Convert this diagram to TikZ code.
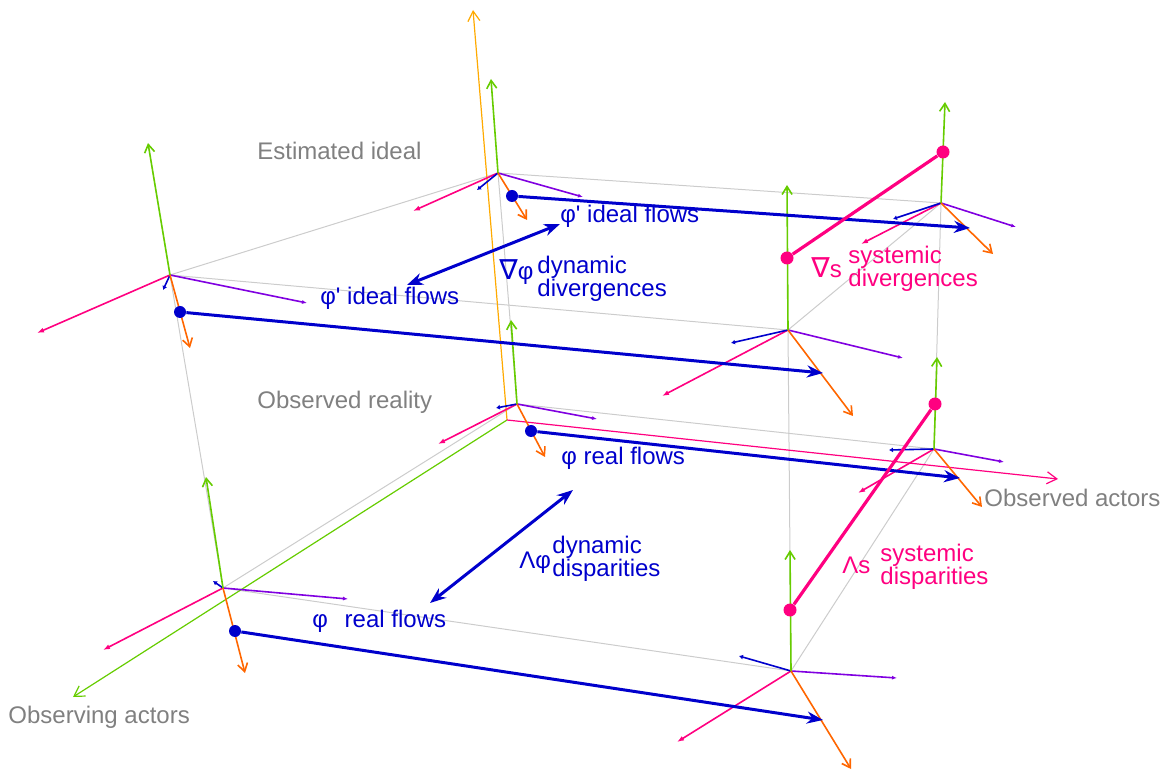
\documentclass[tikz,border=0pt]{standalone}
\usepackage{fontspec}
\setmainfont{Liberation Sans}
\newfontfamily\nablafont[Scale=1.15]{DejaVu Sans}
\usetikzlibrary{arrows.meta}

\definecolor{flowblue}{RGB}{0,0,204}
\definecolor{syspink}{RGB}{255,0,128}
\definecolor{axgreen}{RGB}{102,204,0}
\definecolor{axorange}{RGB}{255,102,0}
\definecolor{axamber}{RGB}{255,170,0}
\definecolor{axpurple}{RGB}{128,0,224}
\definecolor{edgegray}{RGB}{204,204,204}
\definecolor{labelgray}{RGB}{128,128,128}

\tikzset{>=latex}
\tikzset{
  cubeedge/.style={edgegray,line width=0.5pt},
  greenaxis/.style={axgreen,line width=0.8pt,-{Straight Barb[length=4pt,width=5pt]}},
  orangeaxis/.style={axorange,line width=0.8pt,-{Straight Barb[length=4pt,width=5pt]}},
  pinkaxis/.style={syspink,line width=0.8pt,-{Latex[length=3.5pt,width=2.5pt]}},
  purpleaxis/.style={axpurple,line width=0.8pt,-{Latex[length=2.5pt,width=2pt]}},
  blueaxis/.style={flowblue,line width=0.8pt,-{Latex[length=2pt,width=2.5pt]}},
  worldaxis/.style={line width=0.6pt,-{Straight Barb[length=5pt,width=6pt]}},
  flow/.style={flowblue,line width=1.5pt,-{Stealth[length=8pt,width=6pt]}},
  dflow/.style={flowblue,line width=1.5pt,{Stealth[length=8pt,width=6pt]}-{Stealth[length=8pt,width=6pt]}},
  systemic/.style={syspink,line width=1.6pt},
  bluedot/.style={circle,fill=flowblue,inner sep=0pt,minimum size=6pt},
  pinkdot/.style={circle,fill=syspink,inner sep=0pt,minimum size=6.5pt},
  lbl/.style={inner sep=0pt,anchor=base west,font=\fontsize{12}{11.5}\selectfont},
  lbltwo/.style={inner sep=0pt,anchor=west,align=left,font=\fontsize{12}{11.5}\selectfont},
}

% local axes of one actor: name, up, down, pink, purple, blue
\newcommand{\actoraxes}[6]{%
  \coordinate (#1-up) at #2;
  \coordinate (#1-dn) at #3;
  \coordinate (#1-pk) at #4;
  \coordinate (#1-pu) at #5;
  \coordinate (#1-bl) at #6;
  \draw[pinkaxis] (#1) -- (#1-pk);
  \draw[purpleaxis] (#1) -- (#1-pu);
  \draw[blueaxis] (#1) -- (#1-bl);
  \draw[greenaxis] (#1) -- (#1-up);
  \draw[orangeaxis] (#1) -- (#1-dn);
}
\newcommand{\phiprime}{φ\textquotesingle}

\begin{document}
\begin{tikzpicture}[x=0.5pt,y=-0.5pt]
  \useasboundingbox (0,0) rectangle (1171,774);

  % corners of the two layers
  \coordinate (ideal-l) at (170,275);
  \coordinate (ideal-b) at (498,173);
  \coordinate (ideal-r) at (941,203);
  \coordinate (ideal-f) at (788,330);
  \coordinate (real-l) at (223,588);
  \coordinate (real-b) at (517,404);
  \coordinate (real-r) at (934,449);
  \coordinate (real-f) at (791,671);

  \draw[cubeedge] (ideal-l) -- (ideal-b) -- (ideal-r) -- (ideal-f) -- cycle;
  \draw[cubeedge] (real-l) -- (real-b) -- (real-r) -- (real-f) -- cycle;
  \foreach \c in {l,b,r,f}
    \draw[cubeedge] (ideal-\c) -- (real-\c);

  % world axes
  \coordinate (origin) at (507,420);
  \coordinate (world-up) at (473,10);
  \coordinate (world-obs) at (73,697);
  \coordinate (world-act) at (1058,479);
  \draw[worldaxis,axamber] (origin) -- (world-up);
  \draw[worldaxis,axgreen] (origin) -- (world-obs);
  \draw[worldaxis,syspink] (origin) -- (world-act);

  \actoraxes{ideal-l}{(148,143)}{(190,348)}{(37,333)}{(307,303)}{(163,290)}
  \actoraxes{ideal-b}{(491,79)}{(527,220)}{(413,211)}{(583,197)}{(477,190)}
  \actoraxes{ideal-r}{(945,102)}{(993,254)}{(861,244)}{(1016,227)}{(893,219)}
  \actoraxes{ideal-f}{(787,185)}{(853,416)}{(662,396)}{(903,358)}{(731,343)}
  \actoraxes{real-l}{(206,477)}{(245,673)}{(103,650)}{(348,599)}{(213,581)}
  \actoraxes{real-b}{(511,320)}{(545,457)}{(438,444)}{(597,419)}{(496,408)}
  \actoraxes{real-r}{(937,357)}{(982,507)}{(858,493)}{(1004,462)}{(889,450)}
  \actoraxes{real-f}{(790,550)}{(851,769)}{(677,742)}{(897,678)}{(739,656)}

  % flows
  \node[bluedot] (flow-il) at (180,312) {};
  \node[bluedot] (flow-ib) at (512,196) {};
  \node[bluedot] (flow-rb) at (531,431) {};
  \node[bluedot] (flow-rl) at (235,631) {};
  \coordinate (flow-il-end) at (823,373);
  \coordinate (flow-ib-end) at (970,228);
  \coordinate (flow-rb-end) at (960,478);
  \coordinate (flow-rl-end) at (823,720);
  \draw[flow] (flow-il) -- (flow-il-end);
  \draw[flow] (flow-ib) -- (flow-ib-end);
  \draw[flow] (flow-rb) -- (flow-rb-end);
  \draw[flow] (flow-rl) -- (flow-rl-end);

  \coordinate (div-a) at (407,285);
  \coordinate (div-b) at (560,224);
  \coordinate (disp-a) at (430,603);
  \coordinate (disp-b) at (573,490);
  \draw[dflow] (div-a) -- (div-b);
  \draw[dflow] (disp-a) -- (disp-b);

  % systemic
  \node[pinkdot] (sys-div-a) at (943,152) {};
  \node[pinkdot] (sys-div-b) at (787,258) {};
  \node[pinkdot] (sys-disp-a) at (935,404) {};
  \node[pinkdot] (sys-disp-b) at (790,610) {};
  \draw[systemic] (sys-div-a) -- (sys-div-b);
  \draw[systemic] (sys-disp-a) -- (sys-disp-b);

  % labels
  \node[lbl,labelgray] (lbl-ideal) at (257,160) {Estimated ideal};
  \node[lbl,labelgray] (lbl-real) at (257,409) {Observed reality};
  \node[lbl,labelgray] (lbl-obs) at (8,723) {Observing actors};
  \node[lbl,labelgray] (lbl-act) at (984,506) {Observed actors};

  \node[lbl,flowblue] (lbl-ideal-b) at (560,223) {\phiprime{} ideal flows};
  \node[lbl,flowblue] (lbl-ideal-l) at (320,305) {\phiprime{} ideal flows};
  \node[lbl,flowblue] (lbl-real-b) at (561,465) {φ real flows};
  \node[lbl,flowblue] (lbl-real-l) at (312,627) {φ\hspace{0.7em}real flows};

  \node[lbl,flowblue] (lbl-nabla) at (499,280) {{\nablafont ∇}φ};
  \node[lbltwo,flowblue] (lbl-div) at (537,279) {dynamic\\divergences};
  \node[lbl,flowblue] (lbl-lambda) at (519,568) {Λφ};
  \node[lbltwo,flowblue] (lbl-disp) at (552,559) {dynamic\\disparities};

  \node[lbl,syspink] (lbl-nabla-s) at (811,278) {{\nablafont ∇}s};
  \node[lbltwo,syspink] (lbl-sys-div) at (848,269) {systemic\\divergences};
  \node[lbl,syspink] (lbl-lambda-s) at (842,573) {Λs};
  \node[lbltwo,syspink] (lbl-sys-disp) at (880,567) {systemic\\disparities};
\end{tikzpicture}
\end{document}
